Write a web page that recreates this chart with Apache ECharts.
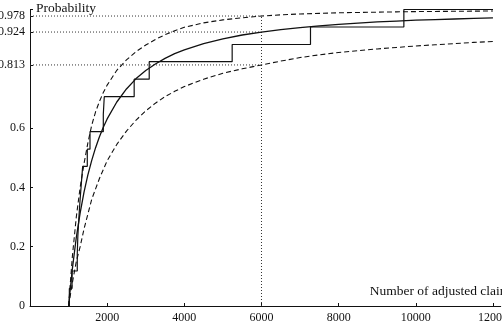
<!DOCTYPE html>
<html>
<head>
<meta charset="utf-8">
<script src="https://cdn.jsdelivr.net/npm/echarts@6/dist/echarts.min.js"></script>
<style>
html,body{margin:0;padding:0;background:#fff}
#main{width:502px;height:327px}
</style>
</head>
<body>
<div id="main"></div>
<script>
// claim counts where the fitted curves were read
var claimX    = [1000, 1100, 1200, 1300, 1400, 1500, 1600, 1700, 1800, 1900, 2000, 2250, 2500, 2750, 3000, 3250, 3500, 3750, 4000,
                 4500, 5000, 5500, 6000, 6500, 7000, 7500, 8000, 8500, 9000, 9500, 10000, 10500, 11000, 11500, 12000];
var fitProb   = [0, 0.128, 0.231, 0.314, 0.384, 0.442, 0.491, 0.534, 0.571, 0.603, 0.631, 0.688, 0.732, 0.767, 0.794, 0.816, 0.835, 0.851, 0.864,
                 0.885, 0.901, 0.914, 0.924, 0.932, 0.939, 0.945, 0.950, 0.954, 0.958, 0.961, 0.964, 0.966, 0.968, 0.970, 0.972];
var upperProb = [0, 0.17, 0.30, 0.40, 0.48, 0.55, 0.61, 0.655, 0.69, 0.72, 0.745, 0.795, 0.83, 0.858, 0.88, 0.899, 0.915, 0.928, 0.94,
                 0.955, 0.965, 0.972, 0.978, 0.982, 0.985, 0.987, 0.989, 0.990, 0.991, 0.992, 0.993, 0.9935, 0.994, 0.9945, 0.995];
var lowerProb = [0, 0.08, 0.15, 0.20, 0.26, 0.31, 0.36, 0.395, 0.43, 0.46, 0.49, 0.545, 0.59, 0.627, 0.658, 0.684, 0.706, 0.724, 0.74,
                 0.765, 0.785, 0.8, 0.813, 0.826, 0.838, 0.847, 0.855, 0.861, 0.867, 0.872, 0.877, 0.881, 0.885, 0.889, 0.892];

// empirical distribution (jumps)
var ecdfX    = [1020, 1020, 1090, 1225, 1240, 1265, 1295, 1330, 1365, 1485, 1555, 1900, 1925, 2700, 3090, 5240, 7270, 9690, 12000];
var ecdfProb = [0, 0.059, 0.118, 0.176, 0.235, 0.294, 0.353, 0.412, 0.471, 0.529, 0.588, 0.647, 0.706, 0.765, 0.824, 0.882, 0.941, 1, 1];

var refX = 6000;
var refProbs = [0.813, 0.924, 0.978];

var xTicks = [2000, 4000, 6000, 8000, 10000, 12000];
var yTicks = [0, 0.2, 0.4, 0.6, 0.813, 0.924, 0.978];

function pairs(xs, ys) {
    var out = [];
    for (var i = 0; i < xs.length; i++) out.push([xs[i], ys[i]]);
    return out;
}

var font = 'Liberation Serif';
var series = [];

// dotted guides at 6000
for (var i = 0; i < refProbs.length; i++) {
    series.push({
        type: 'line', symbol: 'none', silent: true,
        data: [[0, refProbs[i]], [refX, refProbs[i]]],
        lineStyle: {color: '#333', width: 1, type: [1, 2]}
    });
}
series.push({
    type: 'line', symbol: 'none', silent: true,
    data: [[refX, 0], [refX, Math.max.apply(null, refProbs)]],
    lineStyle: {color: '#333', width: 1, type: [1, 2]}
});

series.push({
    name: 'upper', type: 'line', symbol: 'none',
    data: pairs(claimX, upperProb),
    lineStyle: {color: '#111', width: 1.1, type: [5, 3]}
});
series.push({
    name: 'lower', type: 'line', symbol: 'none',
    data: pairs(claimX, lowerProb),
    lineStyle: {color: '#111', width: 1.1, type: [5, 3]}
});
series.push({
    name: 'fit', type: 'line', symbol: 'none',
    data: pairs(claimX, fitProb),
    lineStyle: {color: '#111', width: 1.3}
});
series.push({
    name: 'empirical', type: 'line', symbol: 'none', step: 'end',
    data: pairs(ecdfX, ecdfProb),
    lineStyle: {color: '#111', width: 1.2}
});

var myChart = echarts.init(document.getElementById('main'));
myChart.setOption({
    animation: false,
    backgroundColor: '#fff',
    grid: {left: 30, right: 1.3, top: 9.5, bottom: 21, containLabel: false, outerBoundsMode: 'none'},
    xAxis: {
        type: 'value', min: 0, max: 12200,
        name: 'Number of adjusted claims',
        nameLocation: 'end', nameGap: -131,
        nameTextStyle: {fontFamily: font, fontSize: 13.5, color: '#111', align: 'left', verticalAlign: 'bottom', padding: [0, 0, 8, 0]},
        axisLine: {show: true, lineStyle: {color: '#111', width: 1}},
        axisTick: {show: true, inside: true, length: 3, customValues: xTicks, lineStyle: {color: '#111'}},
        axisLabel: {customValues: xTicks, margin: 6, fontFamily: font, fontSize: 12, color: '#111',
            formatter: function (v) { return String(v); }},
        splitLine: {show: false}
    },
    yAxis: {
        type: 'value', min: 0, max: 1,
        name: 'Probability',
        nameLocation: 'end', nameGap: 1,
        nameTextStyle: {fontFamily: font, fontSize: 13.5, color: '#111', align: 'left', verticalAlign: 'middle', padding: [0, 0, 0, 6]},
        axisLine: {show: true, lineStyle: {color: '#111', width: 1}},
        axisTick: {show: true, inside: true, length: 3, customValues: yTicks.concat([1]), lineStyle: {color: '#111'}},
        axisLabel: {customValues: yTicks, margin: 5, fontFamily: font, fontSize: 12, color: '#111',
            formatter: function (v) { return String(v); }},
        splitLine: {show: false}
    },
    series: series
});
</script>
</body>
</html>
